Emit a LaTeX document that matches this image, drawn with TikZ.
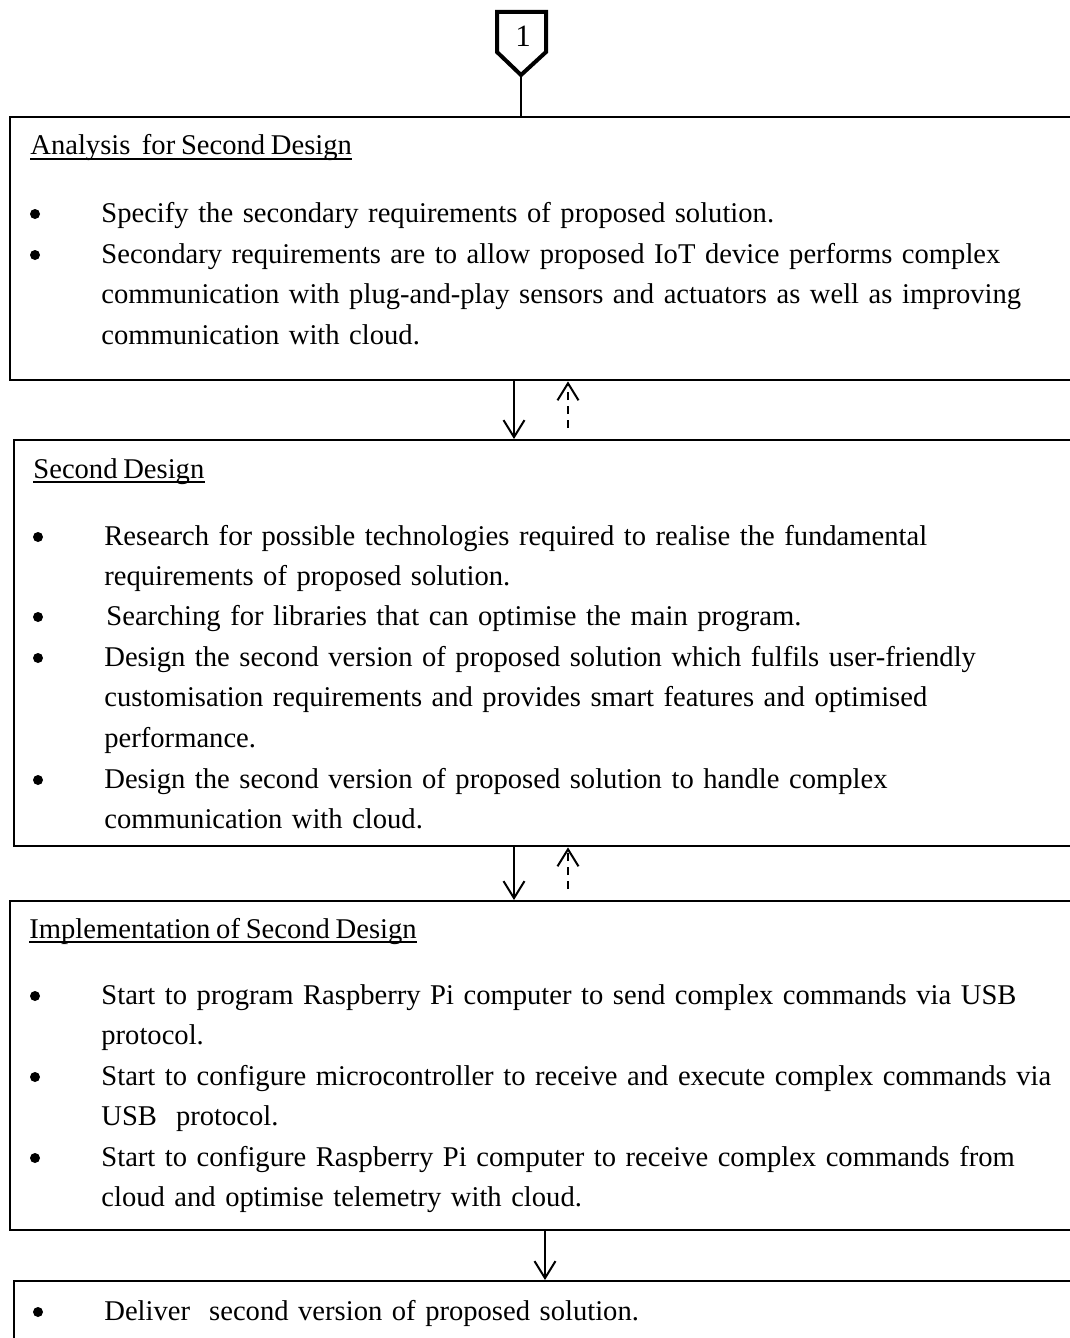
\documentclass[tikz,border=0pt]{standalone}
\usepackage{fontspec}
\setmainfont[WordSpace=0.8]{Liberation Serif}
\usepackage{tikz}
\usetikzlibrary{arrows.meta}
\tikzset{
  txt/.style={font=\fontsize{14.3}{20.25}\selectfont},
}
\begin{document}
\begin{tikzpicture}[x=0.5pt, y=-0.5pt, txt,
  stage/.style={draw, line width=1.2pt, inner sep=0pt, anchor=north west},
  item/.style={anchor=base west, inner sep=0pt, text width=510pt, align=left},
  head/.style={anchor=base west, inner sep=0pt},
  uln/.style={line width=0.7pt},
  dot/.style={circle, fill, inner sep=0pt, minimum size=5pt},
  flow/.style={line width=1pt, -{Straight Barb[length=8.5pt, width=10.5pt]}},
  back/.style={flow, dash pattern=on 4pt off 3pt, shorten <=5.5pt}]
  \useasboundingbox (0,0) rectangle (1070,1338);
  \clip (0,0) rectangle (1070,1338);
  % boxes
  \node[stage, minimum width=535.5pt, minimum height=131.5pt] (ana)  at (9,116)   {};
  \node[stage, minimum width=533.5pt, minimum height=203pt]   (des)  at (13,439)  {};
  \node[stage, minimum width=535.5pt, minimum height=164.5pt] (impl) at (9,900)   {};
  \node[stage, minimum width=533.5pt, minimum height=40pt]    (del)  at (13,1280) {};
  % off-page connector
  \draw[line width=2pt, line join=miter] (497,12) -- (546,12) -- (546,52) -- (521,75) -- (497,52) -- cycle;
  \node[font=\fontsize{15.5}{18}\selectfont] (conn) at (523,36) {1};
  \coordinate (tip) at (521,76);
  \draw[line width=1pt] (tip) -- (ana.north -| tip);
  % arrows between stages
  \coordinate (dn) at (514,0);
  \coordinate (up) at (568,0);
  \coordinate (dnb) at (545,0);
  \draw[flow] (ana.south -| dn)  -- (des.north -| dn);
  \draw[back] (des.north -| up)  -- (ana.south -| up);
  \draw[flow] (des.south -| dn)  -- (impl.north -| dn);
  \draw[back] (impl.north -| up) -- (des.south -| up);
  \draw[flow] (impl.south -| dnb) -- (del.north -| dnb);
  % analysis
  \node[head] (anaT) at (30,155) {Analysis~ for Second Design};
  \draw[uln] ([yshift=-2pt]anaT.base west) -- ([yshift=-2pt]anaT.base east);
  \node[dot] (anaD1) at (35,214) {};
  \node[item] (anaI1) at (101,222) {Specify the secondary requirements of proposed solution.};
  \node[dot] (anaD2) at (35,255) {};
  \node[item] (anaI2) at (101,263) {Secondary requirements are to allow proposed IoT device performs complex\\
    communication with plug-and-play sensors and actuators as well as improving\\
    communication with cloud.};
  % second design
  \node[head] (desT) at (33,478) {Second Design};
  \draw[uln] ([yshift=-2pt]desT.base west) -- ([yshift=-2pt]desT.base east);
  \node[dot] (desD1) at (38,537) {};
  \node[item] (desI1) at (104,545) {Research for possible technologies required to realise the fundamental\\
    requirements of proposed solution.};
  \node[dot] (desD2) at (38,617) {};
  \node[item] (desI2) at (106,625) {Searching for libraries that can optimise the main program.};
  \node[dot] (desD3) at (38,658) {};
  \node[item] (desI3) at (104,666) {Design the second version of proposed solution which fulfils user-friendly\\
    customisation requirements and provides smart features and optimised\\
    performance.};
  \node[dot] (desD4) at (38,780) {};
  \node[item] (desI4) at (104,788) {Design the second version of proposed solution to handle complex\\
    communication with cloud.};
  % implementation
  \node[head] (implT) at (29,938) {Implementation of Second Design};
  \draw[uln] ([yshift=-2pt]implT.base west) -- ([yshift=-2pt]implT.base east);
  \node[dot] (implD1) at (35,996) {};
  \node[item] (implI1) at (101,1004) {Start to program Raspberry Pi computer to send complex commands via USB\\
    protocol.};
  \node[dot] (implD2) at (35,1077) {};
  \node[item] (implI2) at (101,1085) {Start to configure microcontroller to receive and execute complex commands via\\
    USB~ protocol.};
  \node[dot] (implD3) at (35,1158) {};
  \node[item] (implI3) at (101,1166) {Start to configure Raspberry Pi computer to receive complex commands from\\
    cloud and optimise telemetry with cloud.};
  % delivery
  \node[dot] (delD) at (38,1312) {};
  \node[item] (delI) at (104,1320) {Deliver~ second version of proposed solution.};
\end{tikzpicture}
\end{document}
